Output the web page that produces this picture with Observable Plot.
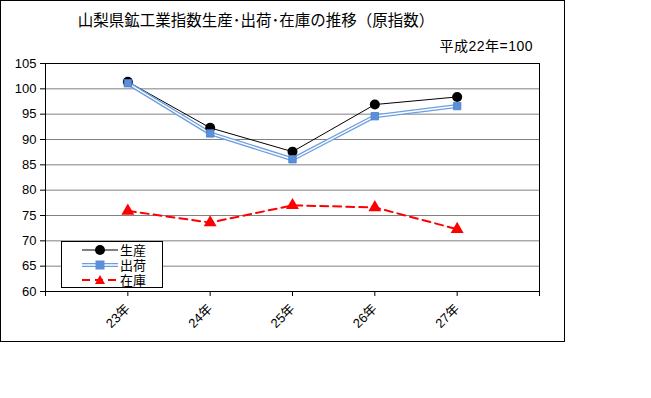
<!DOCTYPE html>
<html><head><meta charset="utf-8">
<script src="https://cdn.jsdelivr.net/npm/d3@7"></script>
<script src="https://cdn.jsdelivr.net/npm/@observablehq/plot@0.6"></script>
<style>
body{margin:0;background:#fff;font-family:"Liberation Sans","Noto Sans CJK JP",sans-serif;}
#wrap{position:relative;width:651px;height:398px;}
#frame{position:absolute;left:0;top:0;width:565px;height:342px;border:1px solid #000;box-sizing:border-box;pointer-events:none;}
#title{position:absolute;left:0;width:512px;top:8px;text-align:center;font-size:15.5px;}
#sub{position:absolute;right:118px;top:35px;font-size:14px;letter-spacing:0.5px;}
#legend{position:absolute;left:61px;top:241px;width:102px;height:47px;border:1px solid #000;box-sizing:border-box;background:#fff;font-size:13px;}
#legend .row{display:flex;align-items:center;height:15px;}
#legend svg{margin-left:20px;margin-right:2px;}
</style></head>
<body><div id="wrap"><div id="chart"></div><div id="frame"></div>
<div id="title">山梨県鉱工業指数生産･出荷･在庫の推移（原指数）</div>
<div id="sub">平成22年=100</div>
<div id="legend"></div></div>
<script>
const years = [23, 24, 25, 26, 27];
const production = [101.4, 92.3, 87.6, 96.9, 98.4];
const shipments = [101.1, 91.2, 86.1, 94.6, 96.6];
const inventory = [75.9, 73.6, 77.0, 76.6, 72.3];
const yTicks = [60, 65, 70, 75, 80, 85, 90, 95, 100, 105];
const seriesNames = ["生産", "出荷", "在庫"];

const data = years.map((y, i) => ({year: y, prod: production[i], ship: shipments[i], inv: inventory[i]}));

const chart = Plot.plot({
  width: 651, height: 398,
  marginLeft: 45, marginRight: 112, marginTop: 63, marginBottom: 107,
  style: {fontSize: "13px", fontFamily: "'Liberation Sans','Noto Sans CJK JP',sans-serif", color: "#000", background: "transparent"},
  x: {domain: [22, 28], label: null},
  y: {domain: [60, 105], label: null},
  marks: [
    Plot.gridY(yTicks.slice(1, -1), {stroke: "#808080", strokeOpacity: 1}),
    Plot.frame({stroke: "#000"}),
    Plot.axisY({ticks: yTicks, tickSize: 5, tickPadding: 4, label: null, stroke: "#000"}),
    Plot.axisX({ticks: [22, ...years, 28], tickSize: 5, tickFormat: d => (years.includes(d) ? d + "年" : ""), tickRotate: -45, tickPadding: 10, label: null, stroke: "#000"}),
    Plot.line(data, {x: "year", y: "prod", stroke: "#000", strokeWidth: 1}),
    Plot.line(data, {x: "year", y: "ship", stroke: "#6d9fe0", strokeWidth: 4}),
    Plot.line(data, {x: "year", y: "ship", stroke: "#fff", strokeWidth: 1.4}),
    Plot.line(data, {x: "year", y: "inv", stroke: "#ff0000", strokeWidth: 2, strokeDasharray: "8,5"}),
    Plot.dot(data, {x: "year", y: "prod", r: 5, fill: "#000"}),
    Plot.dot(data, {x: "year", y: "ship", symbol: "square", r: 4.2, fill: "#5b8fd9", stroke: "#4a7fcc", strokeWidth: 0.8}),
    Plot.dot(data, {x: "year", y: "inv", symbol: "triangle", r: 4.8, fill: "#ff0000"})
  ]
});
document.getElementById("chart").appendChild(chart);

const samples = [
  `<line x1="0" y1="7" x2="36" y2="7" stroke="#000" stroke-width="1"/><circle cx="18" cy="7" r="5" fill="#000"/>`,
  `<line x1="0" y1="7" x2="36" y2="7" stroke="#6d9fe0" stroke-width="4"/><line x1="0" y1="7" x2="36" y2="7" stroke="#fff" stroke-width="1.4"/><rect x="13.5" y="2.5" width="9" height="9" fill="#5b8fd9"/>`,
  `<line x1="0" y1="7" x2="36" y2="7" stroke="#f00" stroke-width="2" stroke-dasharray="8,5"/><path d="M18,2 L23,11 L13,11 Z" fill="#f00"/>`
];
const leg = document.getElementById("legend");
seriesNames.forEach((n, i) => {
  const row = document.createElement("div");
  row.className = "row";
  row.innerHTML = `<svg width="36" height="14">${samples[i]}</svg><span>${n}</span>`;
  leg.appendChild(row);
});
</script></body></html>
